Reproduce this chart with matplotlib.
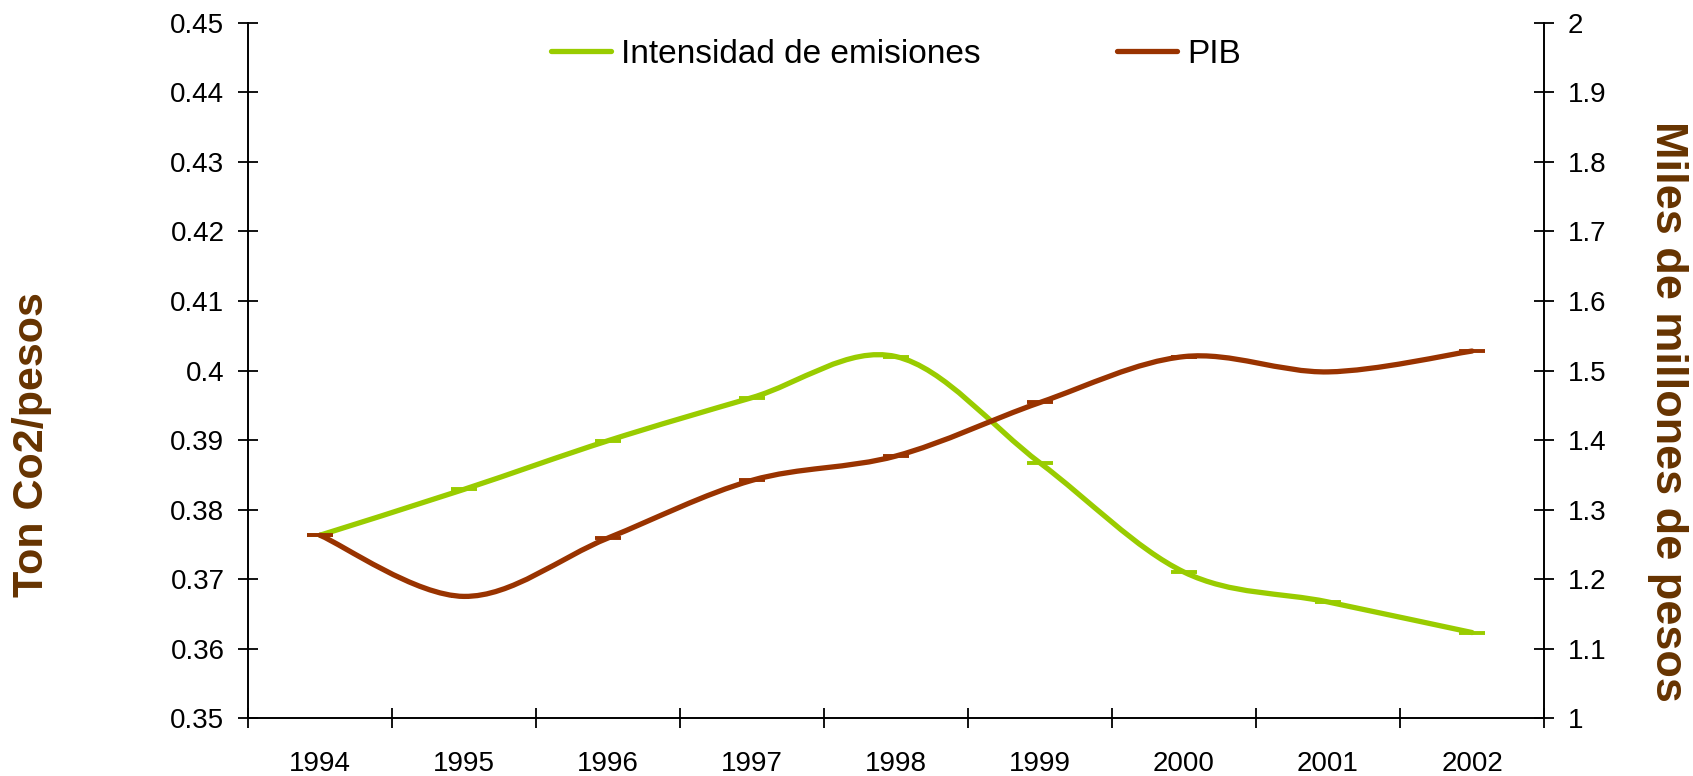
import numpy as np
import matplotlib
matplotlib.use("Agg")
import matplotlib.pyplot as plt
from matplotlib.path import Path
from matplotlib.patches import PathPatch
from matplotlib.lines import Line2D
from matplotlib.ticker import FuncFormatter, FixedLocator

plt.rcParams['font.family'] = ['Liberation Sans', 'DejaVu Sans']

# ---- data ----
years = ["1994", "1995", "1996", "1997", "1998", "1999", "2000", "2001", "2002"]
intensidad = [0.3763, 0.3829, 0.3899, 0.3961, 0.4020, 0.3867, 0.3710, 0.3667, 0.3623]
pib = [1.263, 1.175, 1.259, 1.342, 1.377, 1.454, 1.520, 1.498, 1.528]
left_ticks = [0.35, 0.36, 0.37, 0.38, 0.39, 0.40, 0.41, 0.42, 0.43, 0.44, 0.45]
right_ticks = [1.0, 1.1, 1.2, 1.3, 1.4, 1.5, 1.6, 1.7, 1.8, 1.9, 2.0]
label_left = "Ton Co2/pesos"
label_right = "Miles de millones de pesos"
series_names = ["Intensidad de emisiones", "PIB"]

GREEN = "#99CC00"
RED = "#993300"
BROWN = "#663300"


def smooth_path(xs, ys):
    """Excel-like smoothed line as cubic Bezier path (Catmull-Rom control points)."""
    n = len(xs)
    verts = [(xs[0], ys[0])]
    codes = [Path.MOVETO]
    for i in range(n - 1):
        a = i - 1 if i > 0 else i
        d = i + 2 if i + 2 < n else i + 1
        c1 = (xs[i] + (xs[i + 1] - xs[a]) / 6.0, ys[i] + (ys[i + 1] - ys[a]) / 6.0)
        c2 = (xs[i + 1] - (xs[d] - xs[i]) / 6.0, ys[i + 1] - (ys[d] - ys[i]) / 6.0)
        verts += [c1, c2, (xs[i + 1], ys[i + 1])]
        codes += [Path.CURVE4] * 3
    return Path(verts, codes)


fig = plt.figure(figsize=(16.93, 7.76), dpi=100)
ax = fig.add_axes([0.1465, 0.0747, 0.9120 - 0.1465, 0.9704 - 0.0747])
ax2 = ax.twinx()

x = np.arange(len(years))
LW = 3.8

ax.add_patch(PathPatch(smooth_path(x, intensidad), facecolor="none", edgecolor=GREEN,
                       lw=LW, capstyle="round", joinstyle="round", zorder=3))
ax.plot(x, intensidad, ls="none", marker="_", markersize=19, markeredgewidth=2.8,
        color=GREEN, zorder=3)
ax2.add_patch(PathPatch(smooth_path(x, pib), facecolor="none", edgecolor=RED,
                        lw=LW, capstyle="round", joinstyle="round", zorder=3))
ax2.plot(x, pib, ls="none", marker="_", markersize=19, markeredgewidth=2.8,
         color=RED, zorder=3)

ax.set_xlim(-0.5, len(years) - 0.5)
ax.set_ylim(0.35, 0.45)
ax2.set_ylim(1.0, 2.0)

fmt = FuncFormatter(lambda v, p: "%g" % round(v, 4))
ax.yaxis.set_major_locator(FixedLocator(left_ticks))
ax.yaxis.set_major_formatter(fmt)
ax2.yaxis.set_major_locator(FixedLocator(right_ticks))
ax2.yaxis.set_major_formatter(fmt)

# x axis: tick marks at category boundaries, labels at centers
ax.set_xticks(np.arange(len(years) + 1) - 0.5)
ax.set_xticklabels([])
ax.set_xticks(x, minor=True)
ax.set_xticklabels(years, minor=True)
ax.tick_params(axis="x", which="major", direction="inout", length=14, width=1.3, color="black")
ax.tick_params(axis="x", which="minor", length=0, pad=24, labelsize=20)

ax.tick_params(axis="y", direction="inout", length=14, width=1.3, labelsize=20, pad=10)
ax2.tick_params(axis="y", direction="inout", length=14, width=1.3, labelsize=20, pad=10)

for a in (ax, ax2):
    a.spines["top"].set_visible(False)
    for s in ("left", "right", "bottom"):
        a.spines[s].set_linewidth(1.4)
ax.spines["right"].set_visible(False)
ax2.spines["left"].set_visible(False)
ax2.spines["bottom"].set_visible(False)

fig.text(0.019, 0.4265, label_left, rotation=90, ha="center", va="center",
         fontsize=31, fontweight="bold", color=BROWN)
fig.text(0.985, 0.470, label_right, rotation=270, ha="center", va="center",
         fontsize=32.5, fontweight="bold", color=BROWN)

handles = [Line2D([], [], color=GREEN, lw=LW, solid_capstyle="round"),
           Line2D([], [], color=RED, lw=LW, solid_capstyle="round")]
ax2.legend(handles, series_names, loc="center", bbox_to_anchor=(0.5, 0.955), ncol=2,
           frameon=False, fontsize=24, handlelength=1.8, handletextpad=0.3,
           columnspacing=4.1)

fig.savefig("out.png", dpi=100, facecolor="white")
